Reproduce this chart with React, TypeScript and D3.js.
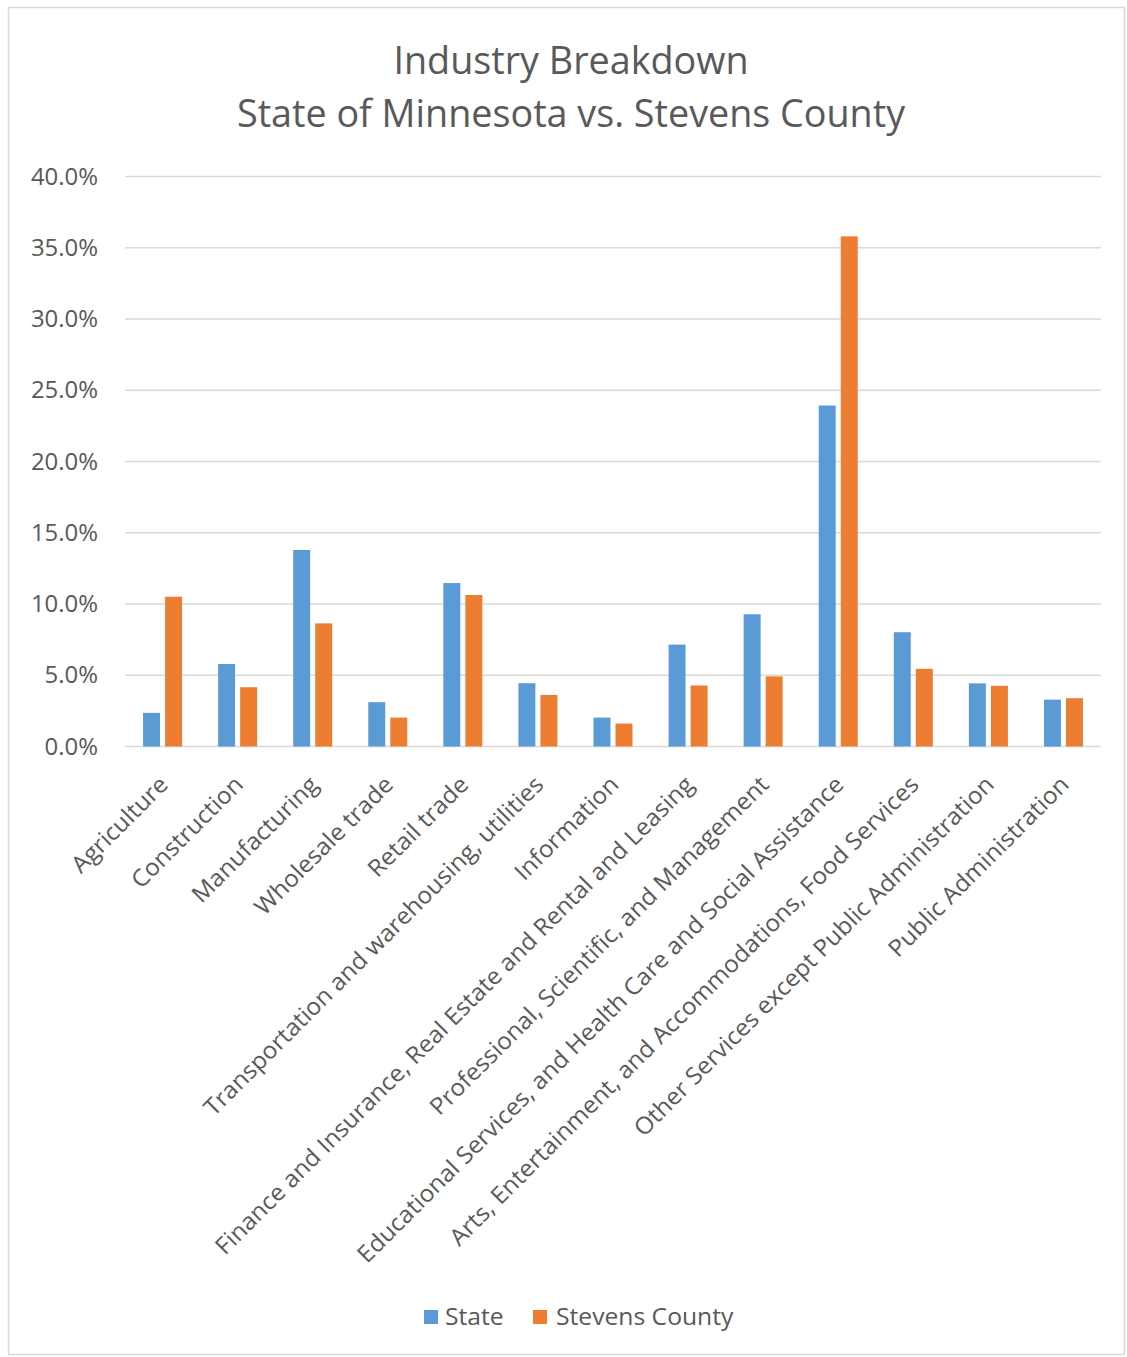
import React from "react";
import * as d3 from "d3";

const categories = [
  "Agriculture",
  "Construction",
  "Manufacturing",
  "Wholesale trade",
  "Retail trade",
  "Transportation and warehousing, utilities",
  "Information",
  "Finance and Insurance, Real Estate and Rental and Leasing",
  "Professional, Scientific, and Management",
  "Educational Services, and Health Care and Social Assistance",
  "Arts, Entertainment, and Accommodations, Food Services",
  "Other Services except Public Administration",
  "Public Administration",
];
const stateValues = [2.36, 5.79, 13.79, 3.11, 11.47, 4.44, 2.03, 7.15, 9.28, 23.93, 8.02, 4.43, 3.29];
const stevensValues = [10.51, 4.16, 8.64, 2.03, 10.63, 3.62, 1.61, 4.28, 4.92, 35.8, 5.45, 4.26, 3.39];
const seriesNames = ["State", "Stevens County"];
const seriesColors = ["#5b9bd5", "#ed7d31"];
const yTicks = [0, 5, 10, 15, 20, 25, 30, 35, 40];
const titleLines = ["Industry Breakdown", "State of Minnesota vs. Stevens County"];

const W = 1127;
const H = 1357;
const plotLeft = 125;
const plotRight = 1101;
const plotTop = 176.5;
const plotBottom = 746.5;
const FONT = "'Open Sans', 'Noto Sans', sans-serif";
const TEXT = "#595959";

export default function App() {
  const x0 = d3.scaleBand<string>().domain(categories).range([plotLeft, plotRight]).padding(0);
  const groupW = 39;
  const x1 = d3
    .scaleBand<string>()
    .domain(seriesNames)
    .range([x0.bandwidth() / 2 - groupW / 2, x0.bandwidth() / 2 + groupW / 2])
    .paddingInner(0.23);
  const y = d3.scaleLinear().domain([0, 40]).range([plotBottom, plotTop]);
  const series = [stateValues, stevensValues];

  return (
    <div style={{ position: "absolute", left: 0, top: 0 }}>
      <svg width={W} height={H} style={{ display: "block", background: "#fff" }}>
        <rect x={8.5} y={7.5} width={1116} height={1347} fill="#fff" stroke="#d9d9d9" strokeWidth={1.5} />
        {titleLines.map((t, i) => (
          <text
            key={i}
            transform={`translate(571,${74 + i * 53}) scale(0.967,1)`}
            textAnchor="middle"
            fontFamily={FONT}
            fontSize={39}
            fill={TEXT}
          >
            {t}
          </text>
        ))}
        {yTicks.map((t) => (
          <g key={t}>
            <line x1={plotLeft} x2={plotRight} y1={y(t)} y2={y(t)} stroke="#d9d9d9" strokeWidth={1.3} />
            <text
              transform={`translate(98,${y(t) + 8}) scale(1.04,1)`}
              textAnchor="end"
              fontFamily={FONT}
              fontSize={23}
              fill={TEXT}
            >
              {t.toFixed(1) + "%"}
            </text>
          </g>
        ))}
        {categories.map((c, i) => (
          <g key={c} transform={`translate(${x0(c)},0)`}>
            {series.map((vals, s) => (
              <rect
                key={s}
                x={x1(seriesNames[s])}
                y={y(vals[i])}
                width={x1.bandwidth()}
                height={plotBottom - y(vals[i])}
                fill={seriesColors[s]}
              />
            ))}
          </g>
        ))}
        {categories.map((c) => {
          const cx = (x0(c) as number) + x0.bandwidth() / 2 + 7;
          const cy = 786;
          return (
            <text
              key={c}
              transform={`translate(${cx},${cy}) rotate(-45) scale(1.04,1)`}
              textAnchor="end"
              fontFamily={FONT}
              fontSize={23.5}
              fill={TEXT}
            >
              {c}
            </text>
          );
        })}
        <g fontFamily={FONT} fontSize={23.5} fill={TEXT}>
          <rect x={424} y={1310} width={14} height={14} fill={seriesColors[0]} />
          <text transform="translate(445,1325) scale(1.05,1)">{seriesNames[0]}</text>
          <rect x={533} y={1310} width={14} height={14} fill={seriesColors[1]} />
          <text transform="translate(556,1325) scale(1.05,1)">{seriesNames[1]}</text>
        </g>
      </svg>
    </div>
  );
}
